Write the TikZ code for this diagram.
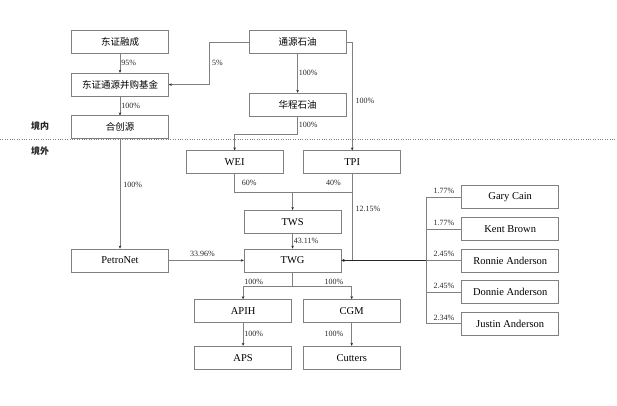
\documentclass[tikz,border=0pt]{standalone}
\usepackage{fontspec}
\setmainfont{Liberation Serif}
\newfontfamily\cjk{Noto Sans CJK SC}
\usetikzlibrary{arrows.meta, positioning, calc}
\colorlet{lnk}{black!50}
\tikzset{
  entity/.style={rectangle, minimum width=97pt, minimum height=23pt,
    draw=lnk, line width=0.6pt, fill=white, text centered,
    font=\fontsize{10.5}{12}\selectfont, inner sep=1pt},
  cnentity/.style={entity, font=\cjk\fontsize{9.5}{11}\selectfont},
  link/.style={draw=lnk, line width=0.6pt},
  arrow/.style={link, -{Stealth[length=3pt, width=2.6pt, color=black!85]}},
  pct/.style={font=\fontsize{8}{9}\selectfont, text=black!85, inner sep=1pt},
  region/.style={font=\cjk\bfseries\fontsize{9}{10}\selectfont, text=black!85}
}

\begin{document}
\begin{tikzpicture}[x=1pt, y=1pt, node distance=19pt and 20pt]
\useasboundingbox (0,0) rectangle (617,-405);

% domestic side
\node (dzrc)   [cnentity] at (120,-42)          {东证融成};
\node (fund)   [cnentity, below=of dzrc]        {东证通源并购基金};
\node (hcy)    [cnentity, below=of fund]        {合创源};
\node (tysy)   [cnentity, right=80pt of dzrc]   {通源石油};
\node (hcsy)   [cnentity, below=39pt of tysy]   {华程石油};

\draw [dotted, lnk] (0,-139.5) -- (617,-139.5);
\node (inside)  [region] at (40,-126) {境内};
\node (outside) [region] at (40,-151) {境外};

% overseas side
\node (wei)      [entity, below=34pt of hcsy, xshift=-63pt] {WEI};
\node (tpi)      [entity, right=of wei]                     {TPI};
\node (tws)      [entity, below=36pt of wei, xshift=58pt]   {TWS};
\node (twg)      [entity, below=15pt of tws]                {TWG};
\node (petronet) [entity, left=75pt of twg]                 {PetroNet};
\node (apih)     [entity, below=27pt of twg, xshift=-49.5pt]{APIH};
\node (cgm)      [entity, right=11pt of apih]               {CGM};
\node (aps)      [entity, below=23pt of apih]               {APS};
\node (cutters)  [entity, below=23pt of cgm]                {Cutters};

\node (ronnie) [entity, right=120pt of twg]  {Ronnie Anderson};
\node (kent)   [entity, above=8pt of ronnie] {Kent Brown};
\node (gary)   [entity, above=8pt of kent]   {Gary Cain};
\node (donnie) [entity, below=8pt of ronnie] {Donnie Anderson};
\node (justin) [entity, below=8pt of donnie] {Justin Anderson};

\coordinate (wj)    at ($(wei.south)+(0,-18pt)$);
\coordinate (split) at ($(twg.south)+(0,-14pt)$);
\coordinate (rb)    at ($(ronnie.west)+(-35pt,0)$);

\draw [arrow] (dzrc) -- node[pct, right]{95\%} (fund);
\draw [arrow] (fund) -- node[pct, right]{100\%} (hcy);
\draw [arrow] (tysy.west) -- ++(-40pt,0) |- node[pct, pos=0.25, right=2pt]{5\%} (fund.east);
\draw [arrow] (tysy) -- node[pct, right]{100\%} (hcsy);
\draw [arrow] (tysy.east) -| node[pct, pos=0.77, right=2pt]{100\%} (tpi.north);
\draw [arrow] (hcsy.south) -- node[pct, right, pos=0.45]{100\%} ++(0,-18pt) -| (wei.north);
\draw [arrow] (hcy) -- node[pct, right=2pt, pos=0.42]{100\%} (petronet);

\draw [link] (wei.south) -- node[pct, right=6pt]{60\%} (wj) -- (wj -| tpi.south);
\draw [link] (tpi.south) -- node[pct, left=10pt]{40\%} (tpi.south |- wj);
\draw [arrow] (wj -| tws.north) -- (tws.north);
\draw [arrow] (tpi.south) |- node[pct, pos=0.2, right=2pt]{12.15\%} (twg.east);
\draw [arrow] (tws) -- node[pct, right]{43.11\%} (twg);
\draw [arrow] (petronet) -- node[pct, above=2pt, pos=0.45]{33.96\%} (twg);

\draw [link] (twg.south) -- (split);
\draw [arrow] (split) -| node[pct, pos=0.5, above right]{100\%} (apih.north);
\draw [arrow] (split) -| node[pct, pos=0.5, above left, xshift=-7pt]{100\%} (cgm.north);
\draw [arrow] (apih) -- node[pct, right]{100\%} (aps);
\draw [arrow] (cgm) -- node[pct, left, xshift=-7pt]{100\%} (cutters);

% individual holders
\foreach \who/\share in {gary/1.77, kent/1.77, ronnie/2.45, donnie/2.45, justin/2.34}
  \draw [link] (\who.west) -- node[pct, above=2pt]{\share\%} (\who.west -| rb);
\draw [link] (gary.west -| rb) -- (justin.west -| rb);
\draw [arrow, draw=black!85, line width=0.8pt] (rb) -- (twg.east);
\end{tikzpicture}
\end{document}
